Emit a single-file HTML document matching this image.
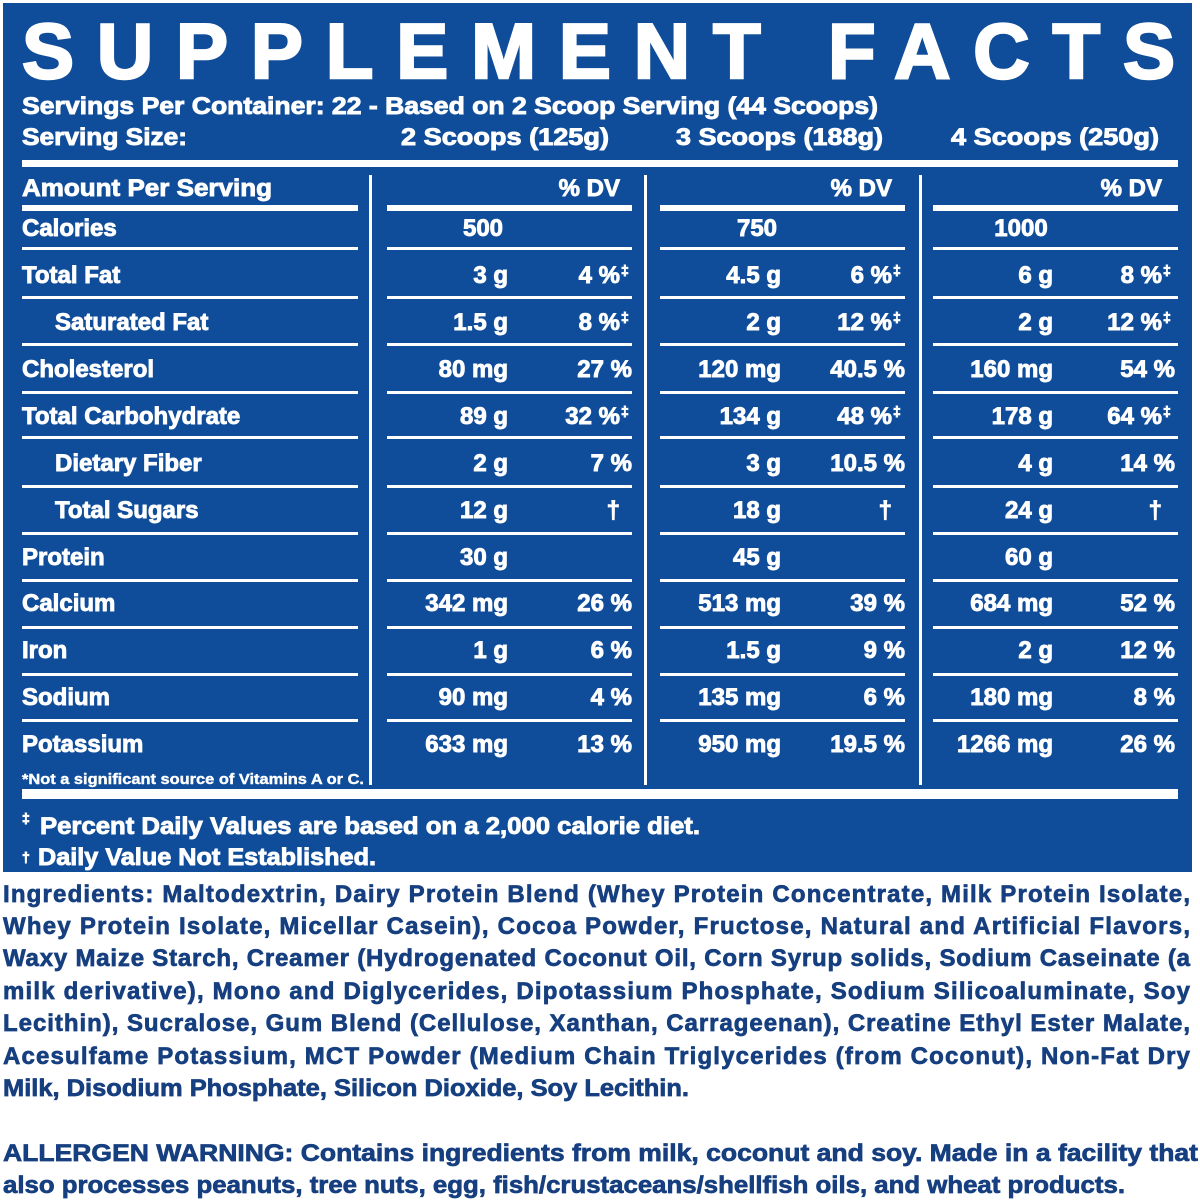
<!DOCTYPE html>
<html><head><meta charset="utf-8"><style>
html,body{margin:0;padding:0;background:#fff;width:1200px;height:1200px;overflow:hidden}
svg{display:block}
text{font-family:"Liberation Sans",Arial,sans-serif;font-weight:bold}
.w text{stroke:#fff;stroke-width:0.9px}
.b text{stroke:#163f80;stroke-width:0.7px}
</style></head><body>
<svg width="1200" height="1200" viewBox="0 0 1200 1200" xmlns="http://www.w3.org/2000/svg">
<rect x="0" y="0" width="1200" height="1200" fill="#fff"/>
<rect x="3" y="3" width="1189" height="869" fill="#0f4c9a"/>
<g fill="#fff" class="w">
<text x="22" y="78" font-size="78" textLength="1153" lengthAdjust="spacing" style="stroke-width:2.5px">SUPPLEMENT FACTS</text>
<text x="22" y="114" font-size="24" textLength="856" lengthAdjust="spacingAndGlyphs">Servings Per Container: 22 - Based on 2 Scoop Serving (44 Scoops)</text>
<text x="22" y="145" font-size="24" textLength="165" lengthAdjust="spacingAndGlyphs">Serving Size:</text>
<text x="401" y="145" font-size="24" textLength="208" lengthAdjust="spacingAndGlyphs">2 Scoops (125g)</text>
<text x="676" y="145" font-size="24" textLength="207" lengthAdjust="spacingAndGlyphs">3 Scoops (188g)</text>
<text x="951" y="145" font-size="24" textLength="208" lengthAdjust="spacingAndGlyphs">4 Scoops (250g)</text>
<rect x="22" y="160" width="1156" height="7"/>
<rect x="369" y="175" width="3" height="610"/>
<rect x="644" y="175" width="3" height="610"/>
<rect x="919" y="175" width="3" height="610"/>
<rect x="22" y="789" width="1156" height="10"/>
<text x="22" y="196" font-size="24" textLength="250" lengthAdjust="spacingAndGlyphs">Amount Per Serving</text>
<g text-anchor="end" font-size="24">
<text x="620" y="196">% DV</text><text x="892" y="196">% DV</text><text x="1162" y="196">% DV</text>
</g>
<rect x="22" y="205" width="336" height="6"/><rect x="387" y="205" width="245" height="6"/><rect x="660" y="205" width="245" height="6"/><rect x="933" y="205" width="245" height="6"/>
<g>
<rect x="22" y="247" width="336" height="3"/><rect x="387" y="247" width="245" height="3"/><rect x="660" y="247" width="245" height="3"/><rect x="933" y="247" width="245" height="3"/>
<rect x="22" y="296" width="336" height="3"/><rect x="387" y="296" width="245" height="3"/><rect x="660" y="296" width="245" height="3"/><rect x="933" y="296" width="245" height="3"/>
<rect x="22" y="343" width="336" height="3"/><rect x="387" y="343" width="245" height="3"/><rect x="660" y="343" width="245" height="3"/><rect x="933" y="343" width="245" height="3"/>
<rect x="22" y="391" width="336" height="3"/><rect x="387" y="391" width="245" height="3"/><rect x="660" y="391" width="245" height="3"/><rect x="933" y="391" width="245" height="3"/>
<rect x="22" y="436" width="336" height="3"/><rect x="387" y="436" width="245" height="3"/><rect x="660" y="436" width="245" height="3"/><rect x="933" y="436" width="245" height="3"/>
<rect x="22" y="485" width="336" height="3"/><rect x="387" y="485" width="245" height="3"/><rect x="660" y="485" width="245" height="3"/><rect x="933" y="485" width="245" height="3"/>
<rect x="22" y="532" width="336" height="3"/><rect x="387" y="532" width="245" height="3"/><rect x="660" y="532" width="245" height="3"/><rect x="933" y="532" width="245" height="3"/>
<rect x="22" y="579" width="336" height="3"/><rect x="387" y="579" width="245" height="3"/><rect x="660" y="579" width="245" height="3"/><rect x="933" y="579" width="245" height="3"/>
<rect x="22" y="626" width="336" height="3"/><rect x="387" y="626" width="245" height="3"/><rect x="660" y="626" width="245" height="3"/><rect x="933" y="626" width="245" height="3"/>
<rect x="22" y="673" width="336" height="3"/><rect x="387" y="673" width="245" height="3"/><rect x="660" y="673" width="245" height="3"/><rect x="933" y="673" width="245" height="3"/>
<rect x="22" y="719" width="336" height="3"/><rect x="387" y="719" width="245" height="3"/><rect x="660" y="719" width="245" height="3"/><rect x="933" y="719" width="245" height="3"/>
</g>
<g font-size="24">
<text x="22" y="236">Calories</text>
<text x="22" y="283">Total Fat</text>
<text x="55" y="330">Saturated Fat</text>
<text x="22" y="377">Cholesterol</text>
<text x="22" y="424">Total Carbohydrate</text>
<text x="55" y="471">Dietary Fiber</text>
<text x="55" y="518">Total Sugars</text>
<text x="22" y="565">Protein</text>
<text x="22" y="611">Calcium</text>
<text x="22" y="658">Iron</text>
<text x="22" y="705">Sodium</text>
<text x="22" y="752">Potassium</text>
</g>
<text x="22" y="784" font-size="15" textLength="342" lengthAdjust="spacingAndGlyphs" style="stroke-width:0.4px">*Not a significant source of Vitamins A or C.</text>
<g font-size="24" text-anchor="middle">
<text x="483" y="236">500</text><text x="757" y="236">750</text><text x="1021" y="236">1000</text>
</g>
<g font-size="24" text-anchor="end">
<text x="508" y="283">3 g</text><text x="620" y="283">4 %</text><text x="781" y="283">4.5 g</text><text x="892" y="283">6 %</text><text x="1053" y="283">6 g</text><text x="1162" y="283">8 %</text>
<text x="508" y="330">1.5 g</text><text x="620" y="330">8 %</text><text x="781" y="330">2 g</text><text x="892" y="330">12 %</text><text x="1053" y="330">2 g</text><text x="1162" y="330">12 %</text>
<text x="508" y="377">80 mg</text><text x="632" y="377">27 %</text><text x="781" y="377">120 mg</text><text x="905" y="377">40.5 %</text><text x="1053" y="377">160 mg</text><text x="1175" y="377">54 %</text>
<text x="508" y="424">89 g</text><text x="620" y="424">32 %</text><text x="781" y="424">134 g</text><text x="892" y="424">48 %</text><text x="1053" y="424">178 g</text><text x="1162" y="424">64 %</text>
<text x="508" y="471">2 g</text><text x="632" y="471">7 %</text><text x="781" y="471">3 g</text><text x="905" y="471">10.5 %</text><text x="1053" y="471">4 g</text><text x="1175" y="471">14 %</text>
<text x="508" y="518">12 g</text><text x="620" y="518">†</text><text x="781" y="518">18 g</text><text x="892" y="518">†</text><text x="1053" y="518">24 g</text><text x="1162" y="518">†</text>
<text x="508" y="565">30 g</text><text x="781" y="565">45 g</text><text x="1053" y="565">60 g</text>
<text x="508" y="611">342 mg</text><text x="632" y="611">26 %</text><text x="781" y="611">513 mg</text><text x="905" y="611">39 %</text><text x="1053" y="611">684 mg</text><text x="1175" y="611">52 %</text>
<text x="508" y="658">1 g</text><text x="632" y="658">6 %</text><text x="781" y="658">1.5 g</text><text x="905" y="658">9 %</text><text x="1053" y="658">2 g</text><text x="1175" y="658">12 %</text>
<text x="508" y="705">90 mg</text><text x="632" y="705">4 %</text><text x="781" y="705">135 mg</text><text x="905" y="705">6 %</text><text x="1053" y="705">180 mg</text><text x="1175" y="705">8 %</text>
<text x="508" y="752">633 mg</text><text x="632" y="752">13 %</text><text x="781" y="752">950 mg</text><text x="905" y="752">19.5 %</text><text x="1053" y="752">1266 mg</text><text x="1175" y="752">26 %</text>
</g>
<g font-size="14">
<text x="621" y="275">‡</text><text x="893" y="275">‡</text><text x="1163" y="275">‡</text>
<text x="621" y="322">‡</text><text x="893" y="322">‡</text><text x="1163" y="322">‡</text>
<text x="621" y="416">‡</text><text x="893" y="416">‡</text><text x="1163" y="416">‡</text>
<text x="22" y="823">‡</text><text x="22" y="862">†</text>
</g>
<text x="40" y="834" font-size="24" textLength="660" lengthAdjust="spacingAndGlyphs">Percent Daily Values are based on a 2,000 calorie diet.</text>
<text x="38" y="865" font-size="24" textLength="338" lengthAdjust="spacingAndGlyphs">Daily Value Not Established.</text>
</g>
<g fill="#163f80" font-size="24" class="b">
<text x="3" y="902" textLength="1187" lengthAdjust="spacing">Ingredients: Maltodextrin, Dairy Protein Blend (Whey Protein Concentrate, Milk Protein Isolate,</text>
<text x="3" y="934" textLength="1187" lengthAdjust="spacing">Whey Protein Isolate, Micellar Casein), Cocoa Powder, Fructose, Natural and Artificial Flavors,</text>
<text x="3" y="966" textLength="1187" lengthAdjust="spacing">Waxy Maize Starch, Creamer (Hydrogenated Coconut Oil, Corn Syrup solids, Sodium Caseinate (a</text>
<text x="3" y="999" textLength="1187" lengthAdjust="spacing">milk derivative), Mono and Diglycerides, Dipotassium Phosphate, Sodium Silicoaluminate, Soy</text>
<text x="3" y="1031" textLength="1187" lengthAdjust="spacing">Lecithin), Sucralose, Gum Blend (Cellulose, Xanthan, Carrageenan), Creatine Ethyl Ester Malate,</text>
<text x="3" y="1064" textLength="1187" lengthAdjust="spacing">Acesulfame Potassium, MCT Powder (Medium Chain Triglycerides (from Coconut), Non-Fat Dry</text>
<text x="3" y="1096" textLength="686" lengthAdjust="spacingAndGlyphs">Milk, Disodium Phosphate, Silicon Dioxide, Soy Lecithin.</text>
<text x="3" y="1161" textLength="1195" lengthAdjust="spacingAndGlyphs">ALLERGEN WARNING: Contains ingredients from milk, coconut and soy. Made in a facility that</text>
<text x="3" y="1193" textLength="1122" lengthAdjust="spacingAndGlyphs">also processes peanuts, tree nuts, egg, fish/crustaceans/shellfish oils, and wheat products.</text>
</g>
</svg>
</body></html>
